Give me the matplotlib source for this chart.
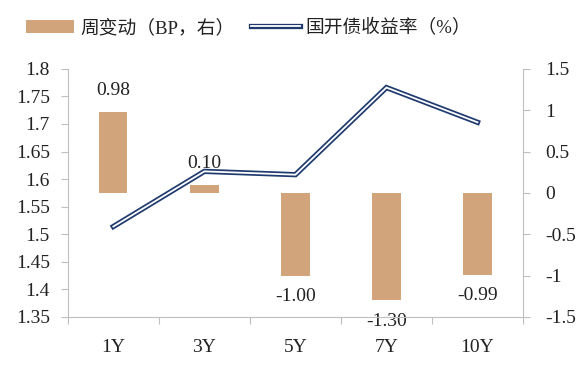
import numpy as np
import matplotlib.pyplot as plt
import matplotlib.patheffects as pe

plt.rcParams['font.family'] = ['Liberation Serif', 'Noto Sans CJK SC']

categories = ['1Y', '3Y', '5Y', '7Y', '10Y']
weekly_change = [0.98, 0.10, -1.00, -1.30, -0.99]   # BP, right axis
yield_pct = [1.514, 1.614, 1.608, 1.766, 1.703]     # %, left axis

bar_color = '#D2A47C'
line_color = '#1F3A6E'
spine_color = '#BFBFBF'
text_color = '#222222'

fig = plt.figure(figsize=(5.85, 3.66), dpi=100)
ax = fig.add_axes([0.116, 0.134, 0.778, 0.678])
ax2 = ax.twinx()
ax.set_zorder(ax2.get_zorder() + 1)
ax.patch.set_visible(False)

x = np.arange(len(categories))

bars = ax2.bar(x, weekly_change, width=0.31, color=bar_color,
               label='周变动（BP，右）')
ax2.bar_label(bars, labels=['%.2f' % v for v in weekly_change],
              padding=9, fontsize=14, color=text_color)

line, = ax.plot(x, yield_pct, color='white', lw=1.3,
                solid_joinstyle='miter', label='国开债收益率（%）',
                path_effects=[pe.Stroke(linewidth=3.8, foreground=line_color),
                              pe.Normal()])

ax.set_xlim(-0.5, len(categories) - 0.5)
ax.set_ylim(1.35, 1.8)
ax.set_yticks(np.arange(1.35, 1.8001, 0.05))
ax.set_yticklabels(['%g' % round(v, 2) for v in np.arange(1.35, 1.8001, 0.05)])
ax2.set_ylim(-1.5, 1.5)
ax2.set_yticks(np.arange(-1.5, 1.5001, 0.5))
ax2.set_yticklabels(['%g' % v for v in np.arange(-1.5, 1.5001, 0.5)])

ax.set_xticks(np.arange(-0.5, len(categories), 1.0))
ax.set_xticklabels([])
ax.set_xticks(x, minor=True)
ax.set_xticklabels(categories, minor=True)
ax.tick_params(axis='x', which='major', length=5, color=spine_color)
ax.tick_params(axis='x', which='minor', length=0, pad=16,
               labelsize=14, labelcolor=text_color)
ax.tick_params(axis='y', length=5, color=spine_color, labelsize=14,
               labelcolor=text_color, pad=8)
ax2.tick_params(axis='y', length=5, color=spine_color, labelsize=14,
                labelcolor=text_color, pad=11)

for a in (ax, ax2):
    a.spines['top'].set_visible(False)
    for s in ('left', 'right', 'bottom'):
        a.spines[s].set_color(spine_color)
ax.spines['right'].set_visible(False)
ax2.spines['left'].set_visible(False)
ax2.spines['bottom'].set_visible(False)

fig.legend(handles=[bars, line], loc='upper left',
           bbox_to_anchor=(0.015, 0.995), ncol=2, frameon=False,
           fontsize=13.5, handlelength=2.6, handletextpad=0.3,
           columnspacing=0.9, labelcolor=text_color)

fig.savefig('out.png', dpi=100)
